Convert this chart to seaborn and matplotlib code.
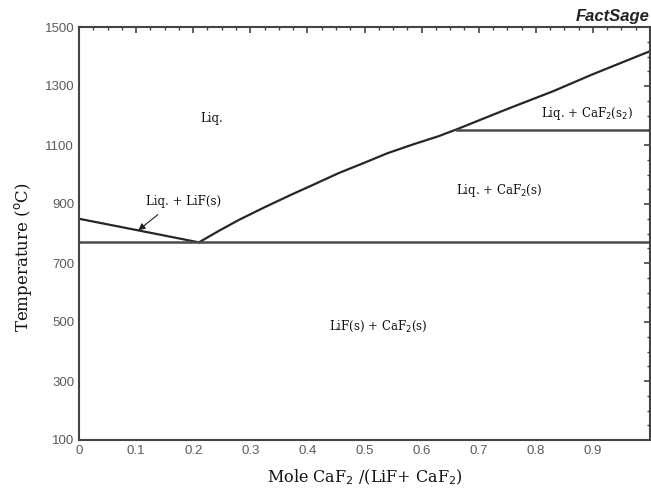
import matplotlib
matplotlib.use("Agg")
import matplotlib.pyplot as plt
from matplotlib.ticker import MultipleLocator, FuncFormatter
import numpy as np
import pandas as pd
import seaborn as sns

# Liquidus on the LiF-rich side (mole fraction CaF2, temperature in C)
lif_liquidus_x = [0.0, 0.10, 0.21]
lif_liquidus_t = [850, 812, 770]

# Liquidus on the CaF2-rich side
caf2_liquidus_x = [0.21, 0.245, 0.28, 0.325, 0.37, 0.41, 0.455, 0.50, 0.54, 0.585, 0.63, 0.66, 0.75, 0.83, 0.90, 1.00]
caf2_liquidus_t = [770, 809, 846, 889, 930, 965, 1005, 1040, 1072, 1102, 1130, 1152, 1222, 1282, 1340, 1418]

# Invariant lines
eutectic_x = [0.0, 1.0]
eutectic_t = [770, 770]
transition_x = [0.66, 1.0]
transition_t = [1152, 1152]

# Phase field labels
region_labels = ["Liq.", "Liq. + LiF(s)", "Liq. + CaF$_2$(s$_2$)", "Liq. + CaF$_2$(s)", "LiF(s) + CaF$_2$(s)"]
region_x = [0.232, 0.183, 0.89, 0.735, 0.524]
region_t = [1191, 910, 1208, 947, 486]

x_ticks = [0, 0.1, 0.2, 0.3, 0.4, 0.5, 0.6, 0.7, 0.8, 0.9]
y_ticks = [100, 300, 500, 700, 900, 1100, 1300, 1500]

sns.set_style("white")
plt.rcParams["font.family"] = ["Liberation Sans", "DejaVu Sans"]

fig = plt.figure(figsize=(6.51, 4.93), dpi=100)
ax = fig.add_axes([79 / 651, 1 - 440 / 493, 571 / 651, (440 - 27) / 493])

lines = pd.concat([
    pd.DataFrame({"x": lif_liquidus_x, "T": lif_liquidus_t, "seg": "lif"}),
    pd.DataFrame({"x": caf2_liquidus_x, "T": caf2_liquidus_t, "seg": "caf2"}),
])
sns.lineplot(data=lines, x="x", y="T", units="seg", estimator=None, sort=False,
             color="#262626", linewidth=1.6, ax=ax)

inv = pd.concat([
    pd.DataFrame({"x": eutectic_x, "T": eutectic_t, "seg": "eut"}),
    pd.DataFrame({"x": transition_x, "T": transition_t, "seg": "tr"}),
])
sns.lineplot(data=inv, x="x", y="T", units="seg", estimator=None, sort=False,
             color="#4a4a4a", linewidth=1.8, ax=ax)

ax.set_xlim(0, 1.0)
ax.set_ylim(100, 1500)
ax.set_xticks(x_ticks)
ax.set_yticks(y_ticks)
ax.xaxis.set_minor_locator(MultipleLocator(0.025))
ax.yaxis.set_minor_locator(MultipleLocator(50))
ax.xaxis.set_major_formatter(FuncFormatter(lambda v, p: "0" if v == 0 else f"{v:.1f}"))
ax.tick_params(which="both", direction="in", top=True, right=True, color="#444444",
               labelcolor="#5a5a5a", labelsize=9.5)
ax.tick_params(which="major", length=4, width=1.2)
ax.tick_params(which="minor", length=2.5, width=1.0)
for s in ax.spines.values():
    s.set_color("#444444")
    s.set_linewidth(1.5)

serif = ["DejaVu Serif"]
ax.set_xlabel("Mole CaF$_2$ /(LiF+ CaF$_2$)", fontsize=11.5, family=serif, color="#111111", labelpad=8)
ax.set_ylabel("Temperature ($^{\\mathrm{o}}$C)", fontsize=12, family=serif, color="#111111")
ax.yaxis.set_label_coords(-0.078, 0.443)

for lab, xv, tv in zip(region_labels, region_x, region_t):
    ax.text(xv, tv, lab, ha="center", va="center", fontsize=8.5, family=serif, color="#111111")

# arrow pointing at the LiF liquidus
ax.annotate("", xy=(0.10, 805), xytext=(0.142, 870),
            arrowprops=dict(arrowstyle="-|>", color="#222222", lw=0.8, mutation_scale=10))

fig.text(650 / 651, 1 - 17 / 493, "FactSage", ha="right", va="center", fontsize=12,
         fontweight="bold", fontstyle="italic", color="#222222")

fig.savefig("out.png", dpi=100)
